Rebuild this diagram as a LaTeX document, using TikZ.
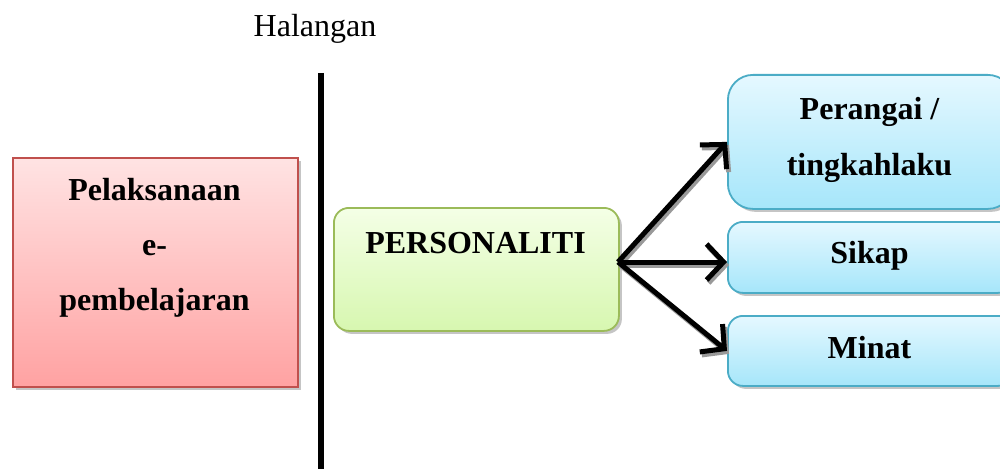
\documentclass[tikz,border=0pt]{standalone}
\usepackage{fontspec}
\setmainfont{Liberation Serif}
\usetikzlibrary{arrows.meta,shadows}
\definecolor{redborder}{HTML}{C0504D}
\definecolor{redtop}{HTML}{FFE3E3}
\definecolor{redbot}{HTML}{FFA2A2}
\definecolor{grnborder}{HTML}{9BBB59}
\definecolor{grntop}{HTML}{F4FFE6}
\definecolor{grnbot}{HTML}{D7F7B0}
\definecolor{bluborder}{HTML}{4BACC6}
\definecolor{blutop}{HTML}{E5F8FF}
\definecolor{blubot}{HTML}{A6E6FA}
\tikzset{
  box/.style={draw, line width=1.8pt, inner sep=0pt, anchor=north west,
    drop shadow={shadow xshift=3pt, shadow yshift=-3pt, fill=black!45}},
  redbox/.style={box, draw=redborder, top color=redtop, bottom color=redbot},
  grnbox/.style={box, draw=grnborder, top color=grntop, bottom color=grnbot, rounded corners=15pt},
  blubox/.style={box, draw=bluborder, top color=blutop, bottom color=blubot},
  lbl/.style={font=\fontsize{32}{36}\selectfont\bfseries, anchor=base, inner sep=0pt},
  arr/.style={line width=5pt, -{Straight Barb[length=17pt, width=36pt, line width=5pt]}},
  arrshadow/.style={arr, draw=black!40, transform canvas={shift={(2pt,-3pt)}}}
}
\begin{document}
\begin{tikzpicture}[x=1pt, y=-1pt]
\useasboundingbox (0,0) rectangle (1000,468);
\clip (0,0) rectangle (1000,468);
% title
\node[font=\fontsize{32}{36}\selectfont, anchor=base, inner sep=0pt] (title) at (315,37) {Halangan};
% barrier line
\coordinate (bartop) at (321,73);
\coordinate (barbot) at (321,470);
\draw[line width=6pt] (bartop) -- (barbot);
% left box
\node[redbox, minimum width=285pt, minimum height=229pt] (impl) at (12,157) {};
\node[lbl] (impl1) at (154.5,200) {Pelaksanaan};
\node[lbl] (impl2) at (154.5,255) {e-};
\node[lbl] (impl3) at (154.5,310) {pembelajaran};
% green box
\node[grnbox, minimum width=285pt, minimum height=123pt] (pers) at (333,207) {};
\node[lbl] (perst) at (475.5,253) {PERSONALITI};
% blue boxes
\node[blubox, rounded corners=25pt, minimum width=285pt, minimum height=134pt] (beh) at (727,74) {};
\node[lbl] (beh1) at (869.5,120) {Perangai /};
\node[lbl] (beh2) at (869.5,175) {tingkahlaku};
\node[blubox, rounded corners=15pt, minimum width=285pt, minimum height=71pt] (sik) at (727,221) {};
\node[lbl] (sikt) at (869.5,263) {Sikap};
\node[blubox, rounded corners=15pt, minimum width=285pt, minimum height=70pt] (min) at (727,315) {};
\node[lbl] (mint) at (869.5,358) {Minat};
% arrows
\coordinate (src) at (618,262);
\draw[arrshadow] (src) -- (beh.west);
\draw[arrshadow] (src) -- (src -| sik.west);
\draw[arrshadow] (src) -- (min.west);
\draw[arr] (src) -- (beh.west);
\draw[arr] (src) -- (src -| sik.west);
\draw[arr] (src) -- (min.west);
\end{tikzpicture}
\end{document}
